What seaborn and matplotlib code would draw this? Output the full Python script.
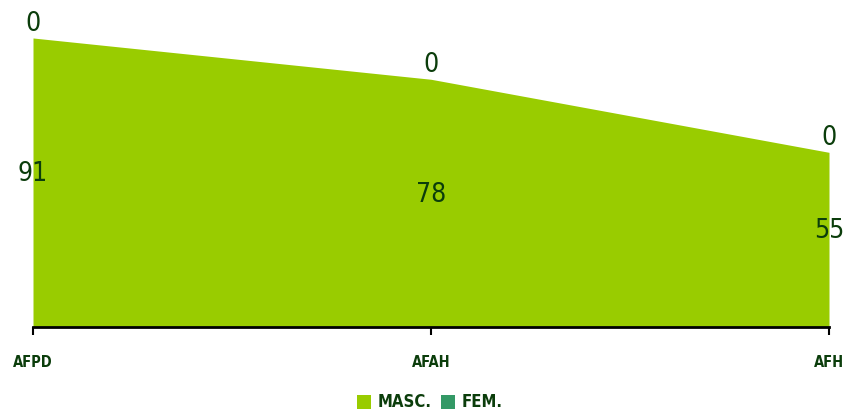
import numpy as np
import matplotlib
matplotlib.use("Agg")
import matplotlib.pyplot as plt
import seaborn as sns
from matplotlib.patches import Patch

categories = ["AFPD", "AFAH", "AFH"]
masc = [91, 78, 55]
fem = [0, 0, 0]
series_names = ["MASC.", "FEM."]
colors = ["#99CC00", "#339966"]
text_color = "#0B3D0B"

sns.set_theme(style="white")
plt.rcParams["font.family"] = ["DejaVu Sans"]
plt.rcParams["font.stretch"] = "condensed"

fig = plt.figure(figsize=(8.43, 4.16), dpi=100)
ax = fig.add_axes([33 / 843, 1 - 327 / 416, (829 - 33) / 843, 317.6 / 416])

x = np.arange(len(categories))
ax.stackplot(x, masc, fem, colors=colors, linewidth=0)

ax.set_xlim(0, len(categories) - 1)
ax.set_ylim(0, 100)

# value labels: bottom of text sits at middle of each band
for i in range(len(categories)):
    ax.text(x[i], masc[i] / 2 - 1.5, str(masc[i]), ha="center", va="bottom",
            fontsize=19, color=text_color, fontstretch="condensed")
    ax.text(x[i], masc[i] + fem[i] / 2 + 0.3, str(fem[i]), ha="center", va="bottom",
            fontsize=19, color=text_color, fontstretch="condensed")

sns.despine(ax=ax, left=True, top=True, right=True)
ax.spines["bottom"].set_color("black")
ax.spines["bottom"].set_linewidth(2)
ax.set_yticks([])
ax.set_xticks(x)
ax.set_xticklabels(categories, fontsize=10.5, fontweight="bold", color=text_color)
ax.tick_params(axis="x", direction="out", length=6, width=1.5, color="black",
               bottom=True, pad=14)

handles = [Patch(facecolor=c, edgecolor="none") for c in colors]
leg = fig.legend(handles, series_names, loc="lower center", bbox_to_anchor=(0.51, -0.025),
                 ncol=2, frameon=False, handlelength=0.8, handleheight=0.9,
                 handletextpad=0.4, columnspacing=0.6,
                 prop={"weight": "bold", "size": 12, "stretch": "condensed"})
for t in leg.get_texts():
    t.set_color(text_color)

fig.savefig("out.png", dpi=100, facecolor="white")
